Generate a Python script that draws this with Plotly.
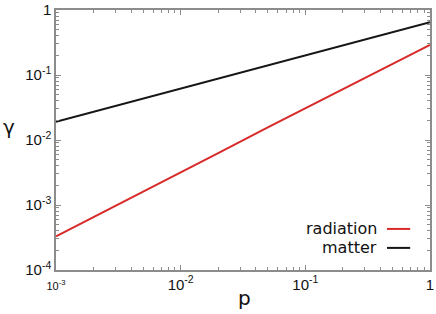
import plotly.graph_objects as go

# data (log-log)
p_vals = [1e-3, 2e-3, 5e-3, 1e-2, 2e-2, 5e-2, 1e-1, 2e-1, 5e-1, 1.0]
gamma_radiation = [3.3e-4, 6.5e-4, 1.6e-3, 3.17e-3, 6.3e-3, 1.57e-2, 3.1e-2, 6.1e-2, 0.148, 0.29]
gamma_matter = [0.0191, 0.0272, 0.0434, 0.0618, 0.088, 0.1406, 0.200, 0.285, 0.455, 0.65]

x_tickvals = [1e-3, 1e-2, 1e-1, 1]
x_ticktext = ["<span style='font-size:11px'>10<sup>-3</sup></span>", "10<sup>-2</sup>", "10<sup>-1</sup>", "1"]
y_tickvals = [1e-4, 1e-3, 1e-2, 1e-1, 1]
y_ticktext = ["10<sup>-4</sup>", "10<sup>-3</sup>", "10<sup>-2</sup>", "10<sup>-1</sup>", "1"]

RED = "#d92a2a"
BLACK = "#151515"
AXC = "#8c8c8c"

fig = go.Figure()
fig.add_trace(go.Scatter(x=p_vals, y=gamma_radiation, mode="lines", line=dict(color=RED, width=2), showlegend=False))
fig.add_trace(go.Scatter(x=p_vals, y=gamma_matter, mode="lines", line=dict(color=BLACK, width=2), showlegend=False))

def minor_vals(lo, hi):
    out = []
    for e in range(lo, hi):
        for k in range(2, 10):
            out.append(k * 10 ** e)
    return out

axis_common = dict(
    type="log", showgrid=False, zeroline=False, showline=True, linecolor=AXC, linewidth=1.5,
    mirror="allticks", ticks="inside", ticklen=5, tickcolor=AXC, tickwidth=1, automargin=False,
    ticklabeloverflow="allow",
    tickfont=dict(family="Liberation Sans", size=15, color="#111"),
)

fig.update_xaxes(
    **axis_common, range=[-3, 0], tickmode="array", tickvals=x_tickvals, ticktext=x_ticktext,
    minor=dict(ticks="inside", ticklen=3, tickcolor=AXC, tickmode="array", tickvals=minor_vals(-3, 0)),
)
fig.update_yaxes(
    **axis_common, range=[-4, 0], tickmode="array", tickvals=y_tickvals, ticktext=y_ticktext,
    minor=dict(ticks="inside", ticklen=3, tickcolor=AXC, tickmode="array", tickvals=minor_vals(-4, 0)),
)

# axis titles
fig.add_annotation(xref="paper", yref="paper", x=0.505, y=-0.108, xanchor="center", yanchor="middle",
                   text="p", showarrow=False, font=dict(family="DejaVu Sans", size=20, color="#111"))
fig.add_annotation(xref="paper", yref="paper", x=-0.125, y=0.55, xanchor="center", yanchor="middle",
                   text="γ", showarrow=False, font=dict(family="DejaVu Sans", size=20, color="#111"))

# legend (text right-aligned, sample line to the right)
legend_items = [("radiation", RED), ("matter", BLACK)]
for i, (name, col) in enumerate(legend_items):
    yy = 0.158 - i * 0.073
    fig.add_annotation(xref="paper", yref="paper", x=0.863, y=yy, xanchor="right", yanchor="middle",
                       text=name, showarrow=False, font=dict(family="DejaVu Sans", size=16, color="#111"))
    fig.add_shape(type="line", xref="paper", yref="paper", x0=0.885, x1=0.947, y0=yy, y1=yy,
                  line=dict(color=col, width=2))

fig.update_layout(
    width=436, height=314, margin=dict(l=56, r=6, t=10, b=44),
    paper_bgcolor="white", plot_bgcolor="white",
)
fig.write_html("out.html", config={"displayModeBar": False},
               post_script="document.body.style.margin='0';")
